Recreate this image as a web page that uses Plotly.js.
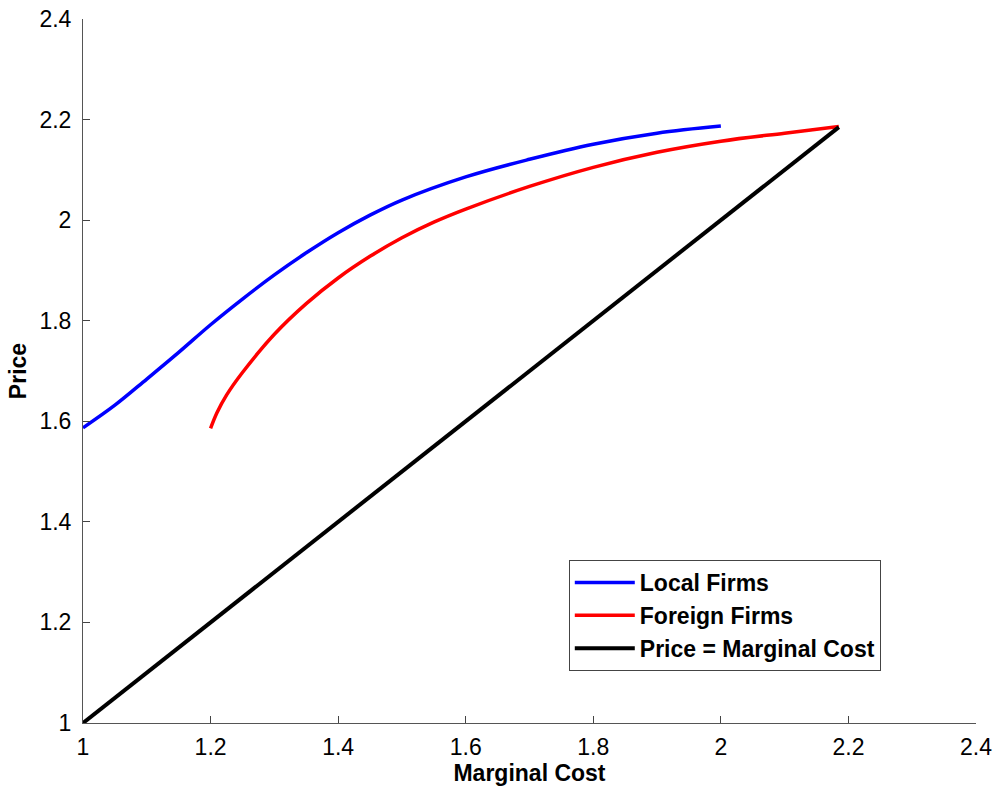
<!DOCTYPE html>
<html>
<head>
<meta charset="utf-8">
<script src="https://cdn.plot.ly/plotly-3.0.1.min.js"></script>
<style>html,body{margin:0;padding:0;background:#fff;}#chart{width:1001px;height:790px;}</style>
</head>
<body>
<div id="chart"></div>
<script>
var localX = [1.0, 1.05, 1.1, 1.15, 1.2, 1.25, 1.3, 1.35, 1.4, 1.45, 1.5, 1.6, 1.7, 1.8, 1.9, 2.0];
var localY = [1.587, 1.632, 1.684, 1.737, 1.792, 1.843, 1.891, 1.935, 1.975, 2.010, 2.040, 2.086, 2.121, 2.151, 2.173, 2.187];

var foreignX = [1.2, 1.21, 1.225, 1.25, 1.3, 1.35, 1.4, 1.45, 1.5, 1.55, 1.6, 1.7, 1.8, 1.9, 2.0, 2.1, 2.185];
var foreignY = [1.586, 1.617, 1.652, 1.697, 1.773, 1.834, 1.885, 1.928, 1.965, 1.996, 2.022, 2.067, 2.105, 2.135, 2.157, 2.173, 2.186];

var pmcX = [1.0, 2.185];
var pmcY = [1.0, 2.185];

var seriesNames = ["Local Firms", "Foreign Firms", "Price = Marginal Cost"];
var tickVals = [1, 1.2, 1.4, 1.6, 1.8, 2, 2.2, 2.4];
var tickText = ["1", "1.2", "1.4", "1.6", "1.8", "2", "2.2", "2.4"];

var FONT = "Liberation Sans, Arial, sans-serif";

var traces = [
  {x: localX, y: localY, name: seriesNames[0], mode: "lines", line: {color: "#0000ff", width: 3.5, shape: "spline", smoothing: 1}},
  {x: foreignX, y: foreignY, name: seriesNames[1], mode: "lines", line: {color: "#ff0000", width: 3.5, shape: "spline", smoothing: 1}},
  {x: pmcX, y: pmcY, name: seriesNames[2], mode: "lines", line: {color: "#000000", width: 4}}
];

var axisCommon = {
  tickvals: tickVals, ticktext: tickText,
  ticks: "inside", ticklen: 7, tickwidth: 1, tickcolor: "#444",
  showline: true, linecolor: "#555", linewidth: 1,
  showgrid: false, zeroline: false, mirror: false, automargin: false,
  tickfont: {family: FONT, size: 23, color: "#000"}
};

var layout = {
  width: 1001, height: 790,
  margin: {l: 83, r: 25, t: 19, b: 67},
  paper_bgcolor: "#fff", plot_bgcolor: "#fff",
  showlegend: true,
  xaxis: Object.assign({}, axisCommon, {
    range: [1, 2.4],
    ticklabelstandoff: 3,
    title: {text: "<b>Marginal Cost</b>", standoff: 6, font: {family: FONT, size: 23, color: "#000"}}
  }),
  yaxis: Object.assign({}, axisCommon, {
    range: [1, 2.4],
    ticklabelstandoff: 6,
    title: {text: "<b>Price</b>", standoff: 6, font: {family: FONT, size: 23, color: "#000"}}
  }),
  legend: {
    x: 0.544, y: 0.2315, xanchor: "left", yanchor: "top",
    bgcolor: "#fff", bordercolor: "#444", borderwidth: 1,
    itemwidth: 60, tracegroupgap: 0,
    font: {family: FONT, size: 23, color: "#000", weight: "bold"}
  }
};

Plotly.newPlot("chart", traces, layout, {displayModeBar: false, staticPlot: true});
</script>
</body>
</html>
